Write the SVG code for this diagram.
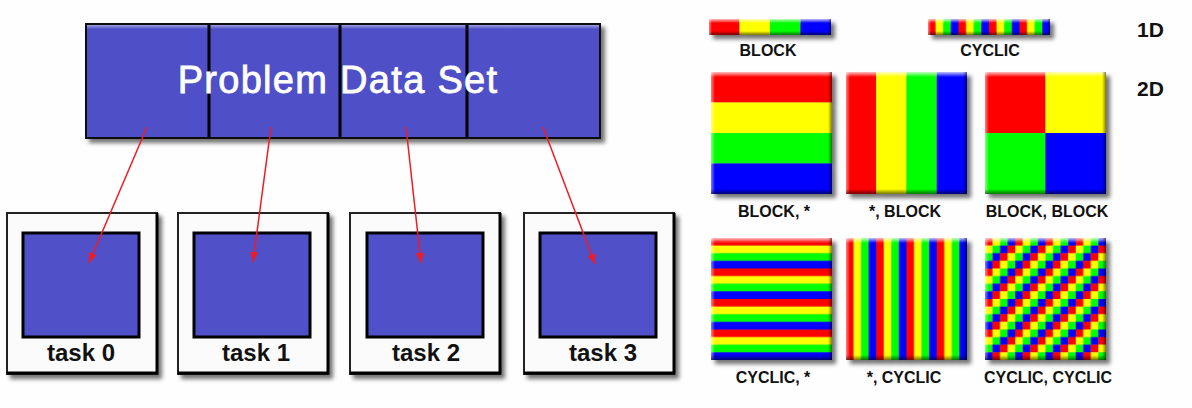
<svg xmlns="http://www.w3.org/2000/svg" width="1192" height="408" viewBox="0 0 1192 408">
<defs>
<style>
.lbl{font-family:"Liberation Sans",Arial,sans-serif;font-weight:bold;font-size:16px;fill:#111;text-anchor:middle}
.task{font-family:"Liberation Sans",Arial,sans-serif;font-weight:bold;font-size:24px;fill:#111;text-anchor:middle}
.dim{font-family:"Liberation Sans",Arial,sans-serif;font-weight:bold;font-size:21px;fill:#111}
.title{font-family:"Liberation Sans",Arial,sans-serif;font-size:38px;fill:#fff;stroke:#fff;stroke-width:0.8px;text-anchor:middle;letter-spacing:1.3px}
.blue{fill:#5050c8}
.conn{stroke:#ee1c24;stroke-width:1.5;fill:none;marker-end:url(#ah)}
.r{fill:#ff0000}.y{fill:#ffff00}.g{fill:#00ff00}.b{fill:#0000ff}
.bt{fill:url(#gT)}.bb{fill:url(#gB)}.bl{fill:url(#gL)}.br{fill:url(#gR)}
.outer{fill:#fbfbfb;stroke:#222;stroke-width:2}
.inner{fill:#5050c8;stroke:#000;stroke-width:3}
.edge{fill:none;stroke:#000;stroke-width:3}
.div{stroke:#000;stroke-width:3}
</style>
<filter id="sh" x="-0.1" y="-0.3" width="1.3" height="1.8">
<feDropShadow dx="4" dy="4" stdDeviation="2" flood-color="#000" flood-opacity="0.55"/>
</filter>
<linearGradient id="gT" x1="0" y1="0" x2="0" y2="1"><stop offset="0" stop-color="#fff" stop-opacity="0.75"/><stop offset="1" stop-color="#fff" stop-opacity="0"/></linearGradient>
<linearGradient id="gB" x1="0" y1="0" x2="0" y2="1"><stop offset="0" stop-color="#000" stop-opacity="0"/><stop offset="1" stop-color="#000" stop-opacity="0.55"/></linearGradient>
<linearGradient id="gL" x1="0" y1="0" x2="1" y2="0"><stop offset="0" stop-color="#fff" stop-opacity="0.5"/><stop offset="1" stop-color="#fff" stop-opacity="0"/></linearGradient>
<linearGradient id="gR" x1="0" y1="0" x2="1" y2="0"><stop offset="0" stop-color="#000" stop-opacity="0"/><stop offset="1" stop-color="#000" stop-opacity="0.5"/></linearGradient>
<pattern id="p1d" patternUnits="userSpaceOnUse" x="928" y="0" width="30.5" height="10">
<rect class="r" x="0" y="0" width="7.7" height="10"/><rect class="y" x="7.625" y="0" width="7.7" height="10"/><rect class="g" x="15.25" y="0" width="7.7" height="10"/><rect class="b" x="22.875" y="0" width="7.7" height="10"/>
</pattern>
<pattern id="pH" patternUnits="userSpaceOnUse" x="0" y="238" width="10" height="30.5">
<rect class="r" x="0" y="0" width="10" height="7.7"/><rect class="y" x="0" y="7.625" width="10" height="7.7"/><rect class="g" x="0" y="15.25" width="10" height="7.7"/><rect class="b" x="0" y="22.875" width="10" height="7.7"/>
</pattern>
<pattern id="pV" patternUnits="userSpaceOnUse" x="846" y="0" width="30.25" height="10">
<rect class="r" x="0" y="0" width="7.6" height="10"/><rect class="y" x="7.5625" y="0" width="7.6" height="10"/><rect class="g" x="15.125" y="0" width="7.6" height="10"/><rect class="b" x="22.6875" y="0" width="7.6" height="10"/>
</pattern>
<pattern id="pC" patternUnits="userSpaceOnUse" x="985" y="238" width="30.25" height="30.5">
<rect class="r" x="0" y="0" width="7.6" height="7.7"/><rect class="y" x="7.5625" y="0" width="7.6" height="7.7"/><rect class="g" x="15.125" y="0" width="7.6" height="7.7"/><rect class="b" x="22.6875" y="0" width="7.6" height="7.7"/>
<rect class="y" x="0" y="7.625" width="7.6" height="7.7"/><rect class="g" x="7.5625" y="7.625" width="7.6" height="7.7"/><rect class="b" x="15.125" y="7.625" width="7.6" height="7.7"/><rect class="r" x="22.6875" y="7.625" width="7.6" height="7.7"/>
<rect class="g" x="0" y="15.25" width="7.6" height="7.7"/><rect class="b" x="7.5625" y="15.25" width="7.6" height="7.7"/><rect class="r" x="15.125" y="15.25" width="7.6" height="7.7"/><rect class="y" x="22.6875" y="15.25" width="7.6" height="7.7"/>
<rect class="b" x="0" y="22.875" width="7.6" height="7.7"/><rect class="r" x="7.5625" y="22.875" width="7.6" height="7.7"/><rect class="y" x="15.125" y="22.875" width="7.6" height="7.7"/><rect class="g" x="22.6875" y="22.875" width="7.6" height="7.7"/>
</pattern>
<marker id="ah" viewBox="0 0 10 8" refX="10" refY="4" markerWidth="10" markerHeight="8" markerUnits="userSpaceOnUse" orient="auto">
<path d="M0,0 L10,4 L0,8 z" fill="#ee1c24"/>
</marker>
</defs>
<rect x="0" y="0" width="1192" height="408" fill="#fefefe"/>

<!-- Problem Data Set -->
<g id="problem-data-set">
<g filter="url(#sh)">
<rect x="86" y="24" width="514" height="114" class="blue" stroke="#111" stroke-width="2"/>
<rect x="87" y="25" width="512" height="4" class="bt" opacity="0.6"/>
<line class="div" x1="209" y1="25" x2="209" y2="137"/>
<line class="div" x1="340" y1="25" x2="340" y2="137"/>
<line class="div" x1="467" y1="25" x2="467" y2="137"/>
</g>
<text class="title" x="338" y="93">Problem Data Set</text>
</g>

<!-- tasks -->
<g id="task0">
<rect class="outer" x="7" y="213" width="150" height="161" filter="url(#sh)"/>
<path class="edge" d="M7,373 H157 V213"/>
<rect class="inner" x="23" y="233" width="116" height="104"/>
<text class="task" x="81" y="361">task 0</text>
</g>
<g id="task1">
<rect class="outer" x="178" y="213" width="150" height="161" filter="url(#sh)"/>
<path class="edge" d="M178,373 H328 V213"/>
<rect class="inner" x="194" y="233" width="116" height="104"/>
<text class="task" x="256" y="361">task 1</text>
</g>
<g id="task2">
<rect class="outer" x="350" y="213" width="150" height="161" filter="url(#sh)"/>
<path class="edge" d="M350,373 H500 V213"/>
<rect class="inner" x="367" y="233" width="116" height="104"/>
<text class="task" x="426" y="361">task 2</text>
</g>
<g id="task3">
<rect class="outer" x="524" y="213" width="150" height="161" filter="url(#sh)"/>
<path class="edge" d="M524,373 H674 V213"/>
<rect class="inner" x="540" y="233" width="116" height="104"/>
<text class="task" x="603" y="361">task 3</text>
</g>

<g id="connectors">
<line class="conn" x1="147" y1="127" x2="89" y2="263"/>
<line class="conn" x1="271" y1="127" x2="253" y2="262"/>
<line class="conn" x1="406" y1="127" x2="421" y2="263"/>
<line class="conn" x1="543" y1="127" x2="595" y2="264"/>
</g>

<!-- 1D -->
<g id="block-1d">
<g filter="url(#sh)">
<rect class="r" x="709" y="19" width="30.5" height="16"/><rect class="y" x="739.5" y="19" width="30.5" height="16"/><rect class="g" x="770" y="19" width="30.5" height="16"/><rect class="b" x="800.5" y="19" width="30.5" height="16"/>
<rect class="bt" x="709" y="19" width="122" height="4"/><rect class="bb" x="709" y="31" width="122" height="4"/><rect class="bl" x="709" y="19" width="3" height="16"/><rect class="br" x="828" y="19" width="3" height="16"/>
</g>
<text class="lbl" x="768" y="56">BLOCK</text>
</g>
<g id="cyclic-1d">
<g filter="url(#sh)">
<rect x="928" y="19" width="122" height="16" fill="url(#p1d)"/>
<rect class="bt" x="928" y="19" width="122" height="4"/><rect class="bb" x="928" y="31" width="122" height="4"/><rect class="bl" x="928" y="19" width="3" height="16"/><rect class="br" x="1047" y="19" width="3" height="16"/>
</g>
<text class="lbl" x="990" y="56">CYCLIC</text>
</g>
<text class="dim" x="1137" y="37">1D</text>
<text class="dim" x="1137" y="96">2D</text>

<!-- 2D row 1 -->
<g id="block-star">
<g filter="url(#sh)">
<rect class="r" x="711" y="72" width="121" height="30.5"/><rect class="y" x="711" y="102.5" width="121" height="30.5"/><rect class="g" x="711" y="133" width="121" height="30.5"/><rect class="b" x="711" y="163.5" width="121" height="30.5"/>
<rect class="bt" x="711" y="72" width="121" height="5"/><rect class="bl" x="711" y="72" width="4" height="122"/><rect class="bb" x="711" y="189" width="121" height="5"/><rect class="br" x="828" y="72" width="4" height="122"/>
</g>
<text class="lbl" x="774" y="217">BLOCK, *</text>
</g>
<g id="star-block">
<g filter="url(#sh)">
<rect class="r" x="846" y="72" width="30.25" height="122"/><rect class="y" x="876.25" y="72" width="30.25" height="122"/><rect class="g" x="906.5" y="72" width="30.25" height="122"/><rect class="b" x="936.75" y="72" width="30.25" height="122"/>
<rect class="bt" x="846" y="72" width="121" height="5"/><rect class="bl" x="846" y="72" width="4" height="122"/><rect class="bb" x="846" y="189" width="121" height="5"/><rect class="br" x="963" y="72" width="4" height="122"/>
</g>
<text class="lbl" x="905" y="217">*, BLOCK</text>
</g>
<g id="block-block">
<g filter="url(#sh)">
<rect class="r" x="985" y="72" width="60.5" height="61"/><rect class="y" x="1045.5" y="72" width="60.5" height="61"/><rect class="g" x="985" y="133" width="60.5" height="61"/><rect class="b" x="1045.5" y="133" width="60.5" height="61"/>
<rect class="bt" x="985" y="72" width="121" height="5"/><rect class="bl" x="985" y="72" width="4" height="122"/><rect class="bb" x="985" y="189" width="121" height="5"/><rect class="br" x="1102" y="72" width="4" height="122"/>
</g>
<text class="lbl" x="1047" y="217">BLOCK, BLOCK</text>
</g>

<!-- 2D row 2 -->
<g id="cyclic-star">
<g filter="url(#sh)">
<rect x="711" y="238" width="121" height="122" fill="url(#pH)"/>
<rect class="bt" x="711" y="238" width="121" height="5"/><rect class="bl" x="711" y="238" width="4" height="122"/><rect class="bb" x="711" y="355" width="121" height="5"/><rect class="br" x="828" y="238" width="4" height="122"/>
</g>
<text class="lbl" x="773" y="383">CYCLIC, *</text>
</g>
<g id="star-cyclic">
<g filter="url(#sh)">
<rect x="846" y="238" width="121" height="122" fill="url(#pV)"/>
<rect class="bt" x="846" y="238" width="121" height="5"/><rect class="bl" x="846" y="238" width="4" height="122"/><rect class="bb" x="846" y="355" width="121" height="5"/><rect class="br" x="963" y="238" width="4" height="122"/>
</g>
<text class="lbl" x="904" y="383">*, CYCLIC</text>
</g>
<g id="cyclic-cyclic">
<g filter="url(#sh)">
<rect x="985" y="238" width="121" height="122" fill="url(#pC)"/>
<rect class="bt" x="985" y="238" width="121" height="5"/><rect class="bl" x="985" y="238" width="4" height="122"/><rect class="bb" x="985" y="355" width="121" height="5"/><rect class="br" x="1102" y="238" width="4" height="122"/>
</g>
<text class="lbl" x="1048" y="383">CYCLIC, CYCLIC</text>
</g>
</svg>
